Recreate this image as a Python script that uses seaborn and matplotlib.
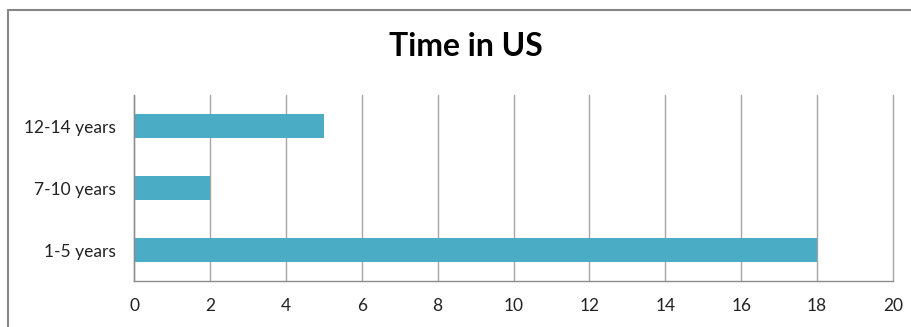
import matplotlib
matplotlib.use("Agg")
import matplotlib.pyplot as plt
import seaborn as sns
import pandas as pd
from matplotlib.lines import Line2D

categories = ["12-14 years", "7-10 years", "1-5 years"]
values = [5, 2, 18]
xticks = [0, 2, 4, 6, 8, 10, 12, 14, 16, 18, 20]

sns.set_theme(style="white")
plt.rcParams["font.family"] = ["Lato", "DejaVu Sans"]

df = pd.DataFrame({"category": categories, "value": values})

fig = plt.figure(figsize=(9.12, 3.27), dpi=100)
ax = fig.add_axes([134/912, 1-281/327, (893-134)/912, (281-95)/327])

sns.barplot(data=df, x="value", y="category", order=categories, orient="h",
            color="#4BACC6", saturation=1, width=0.4, linewidth=0, ax=ax)

ax.set_xlim(0, 20)
ax.set_xticks(xticks)
ax.set_xticklabels([str(t) for t in xticks], fontsize=12.5, color="#222222")
ax.tick_params(axis="y", labelsize=12.5, labelcolor="#222222", length=0, pad=13)
ax.tick_params(axis="x", length=0, pad=12)
ax.set_xlabel("")
ax.set_ylabel("")
ax.grid(axis="x", color="#A6A6A6", linewidth=1)
for gl in ax.get_xgridlines():
    gl.set_clip_on(False)
ax.set_axisbelow(True)
for s in ["top", "right"]:
    ax.spines[s].set_visible(False)
for s in ["left", "bottom"]:
    ax.spines[s].set_color("#8C8C8C")
    ax.spines[s].set_linewidth(1)

fig.text(466/912, 1-47/327, "Time in US", ha="center", va="center",
         fontsize=23, fontweight="bold", color="black")

# outer chart border (left and top visible)
fig.add_artist(Line2D([8/912, 8/912], [0, 1-10/327], transform=fig.transFigure,
                      color="#868686", linewidth=1.5))
fig.add_artist(Line2D([8/912, 1], [1-10/327, 1-10/327], transform=fig.transFigure,
                      color="#868686", linewidth=1.5))

fig.savefig("out.png", dpi=100)
